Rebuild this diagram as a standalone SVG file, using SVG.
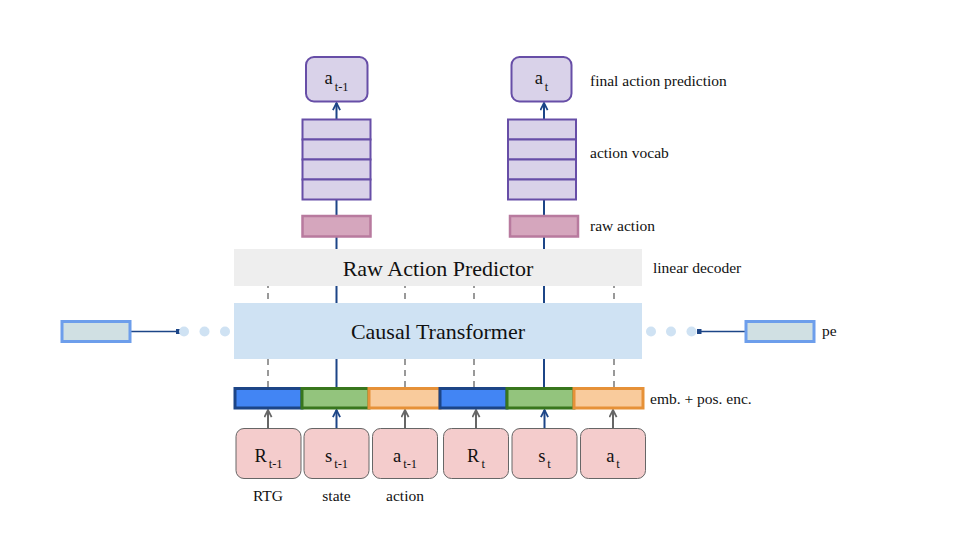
<svg xmlns="http://www.w3.org/2000/svg" width="960" height="540" viewBox="0 0 960 540">
<defs>
<style>
text{font-family:'Liberation Serif','DejaVu Serif',serif}
.lbl{font-size:15.5px;fill:#111}
.big{font-size:22px;fill:#111;text-anchor:middle}
.tok{font-size:18.5px;fill:#111;text-anchor:middle}
.sub{font-size:12.5px}
.tokbox{fill:#f4cccc;stroke:#666;stroke-width:1}
.outbox{fill:#d9d2e9;stroke:#674ea7;stroke-width:2}
.vocab{fill:#d9d2e9;stroke:#674ea7;stroke-width:2}
.raw{fill:#d5a6bd;stroke:#b87a9e;stroke-width:2.5}
.pe{fill:#d0e0e3;stroke:#6d9eeb;stroke-width:3}
.dot{fill:#cfe2f3}
.blue{stroke:#1c4587;stroke-width:2;fill:none}
.gray{stroke:#666;stroke-width:2;fill:none}
.dash{stroke:#999;stroke-width:2;stroke-dasharray:6 5;fill:none}
.peline{stroke:#1c4587;stroke-width:1.3;fill:none}
</style>
<marker id="ahBlue" viewBox="0 0 10 10" refX="9" refY="5" markerWidth="9" markerHeight="9" markerUnits="userSpaceOnUse" orient="auto">
<path d="M1,1 L9,5 L1,9" fill="none" stroke="#1c4587" stroke-width="2"/>
</marker>
<marker id="ahGray" viewBox="0 0 10 10" refX="9" refY="5" markerWidth="9" markerHeight="9" markerUnits="userSpaceOnUse" orient="auto">
<path d="M1,1 L9,5 L1,9" fill="none" stroke="#666" stroke-width="2"/>
</marker>
<marker id="dotEnd" viewBox="0 0 10 10" refX="5" refY="5" markerWidth="5" markerHeight="5" markerUnits="userSpaceOnUse">
<rect x="0" y="0" width="10" height="10" fill="#1c4587"/>
</marker>
</defs>
<rect width="960" height="540" fill="#fff"/>
<g id="connectors">
<line class="dash" x1="268" y1="387" x2="268" y2="250"/>
<line class="dash" x1="405" y1="387" x2="405" y2="250"/>
<line class="dash" x1="474" y1="387" x2="474" y2="250"/>
<line class="dash" x1="614" y1="387" x2="614" y2="250"/>
<line class="blue" x1="336.5" y1="387" x2="336.5" y2="103" marker-end="url(#ahBlue)"/>
<line class="blue" x1="544" y1="387" x2="544" y2="103" marker-end="url(#ahBlue)"/>
<line class="gray" x1="268" y1="428" x2="268" y2="410" marker-end="url(#ahGray)"/>
<line class="blue" x1="336.5" y1="428" x2="336.5" y2="410" marker-end="url(#ahBlue)"/>
<line class="gray" x1="405" y1="428" x2="405" y2="410" marker-end="url(#ahGray)"/>
<line class="gray" x1="476" y1="428" x2="476" y2="410" marker-end="url(#ahGray)"/>
<line class="blue" x1="544.5" y1="428" x2="544.5" y2="410" marker-end="url(#ahBlue)"/>
<line class="gray" x1="613" y1="428" x2="613" y2="410" marker-end="url(#ahGray)"/>
<line class="peline" x1="131" y1="331.5" x2="178" y2="331.5" marker-end="url(#dotEnd)"/>
<line class="peline" x1="745" y1="331.5" x2="699" y2="331.5" marker-end="url(#dotEnd)"/>
</g>

<g id="raw-action-predictor">
<rect x="234" y="249" width="408" height="37" fill="#eeeeee"/>
<text class="big" x="438" y="276">Raw Action Predictor</text>
</g>

<g id="causal-transformer">
<rect x="234" y="303" width="408" height="56" fill="#cfe2f3"/>
<text class="big" x="438" y="339">Causal Transformer</text>
</g>

<g id="pe-left">
<rect class="pe" x="62" y="321.5" width="68" height="20"/>
<circle class="dot" cx="184" cy="331.5" r="5"/>
<circle class="dot" cx="204.5" cy="331.5" r="5"/>
<circle class="dot" cx="225" cy="331.5" r="5"/>
</g>

<g id="pe-right">
<circle class="dot" cx="651" cy="331.5" r="5"/>
<circle class="dot" cx="671" cy="331.5" r="5"/>
<circle class="dot" cx="691.5" cy="331.5" r="5"/>
<rect class="pe" x="746" y="321.5" width="68" height="20"/>
<text class="lbl" x="822" y="336">pe</text>
</g>

<g id="embedding-bar">
<rect x="235" y="388.5" width="67" height="19.5" fill="#4285f4" stroke="#1c4587" stroke-width="3"/>
<rect x="302" y="388.5" width="67" height="19.5" fill="#93c47d" stroke="#38761d" stroke-width="3"/>
<rect x="369" y="388.5" width="71" height="19.5" fill="#f9cb9c" stroke="#e69138" stroke-width="3"/>
<rect x="440" y="388.5" width="67" height="19.5" fill="#4285f4" stroke="#1c4587" stroke-width="3"/>
<rect x="507" y="388.5" width="67" height="19.5" fill="#93c47d" stroke="#38761d" stroke-width="3"/>
<rect x="574" y="388.5" width="69" height="19.5" fill="#f9cb9c" stroke="#e69138" stroke-width="3"/>
<text class="lbl" x="650" y="404">emb. + pos. enc.</text>
</g>

<g id="token-R-t-1">
<rect class="tokbox" x="236" y="428.5" width="65" height="50" rx="8"/>
<text class="tok" x="268.5" y="462">R<tspan class="sub" dx="2" dy="6">t-1</tspan></text>
</g>
<g id="token-s-t-1">
<rect class="tokbox" x="304" y="428.5" width="65" height="50" rx="8"/>
<text class="tok" x="336.5" y="462">s<tspan class="sub" dx="2" dy="6">t-1</tspan></text>
</g>
<g id="token-a-t-1">
<rect class="tokbox" x="372.5" y="428.5" width="65" height="50" rx="8"/>
<text class="tok" x="405" y="462">a<tspan class="sub" dx="2" dy="6">t-1</tspan></text>
</g>
<g id="token-R-t">
<rect class="tokbox" x="443.5" y="428.5" width="65" height="50" rx="8"/>
<text class="tok" x="476" y="462">R<tspan class="sub" dx="2" dy="6">t</tspan></text>
</g>
<g id="token-s-t">
<rect class="tokbox" x="512" y="428.5" width="65" height="50" rx="8"/>
<text class="tok" x="544.5" y="462">s<tspan class="sub" dx="2" dy="6">t</tspan></text>
</g>
<g id="token-a-t">
<rect class="tokbox" x="580.5" y="428.5" width="65" height="50" rx="8"/>
<text class="tok" x="613" y="462">a<tspan class="sub" dx="2" dy="6">t</tspan></text>
</g>

<g id="token-labels">
<text class="lbl" x="268" y="501" text-anchor="middle">RTG</text>
<text class="lbl" x="336.5" y="501" text-anchor="middle">state</text>
<text class="lbl" x="405" y="501" text-anchor="middle">action</text>
</g>

<g id="raw-action-left">
<rect class="raw" x="302.5" y="216" width="68" height="20.5"/>
</g>
<g id="raw-action-right">
<rect class="raw" x="510" y="216" width="68" height="20.5"/>
<text class="lbl" x="590" y="230.5">raw action</text>
</g>

<g id="vocab-left">
<rect class="vocab" x="302.5" y="119.5" width="68" height="20"/>
<rect class="vocab" x="302.5" y="139.5" width="68" height="20"/>
<rect class="vocab" x="302.5" y="159.5" width="68" height="20"/>
<rect class="vocab" x="302.5" y="179.5" width="68" height="20"/>
</g>
<g id="vocab-right">
<rect class="vocab" x="508" y="119.5" width="68" height="20"/>
<rect class="vocab" x="508" y="139.5" width="68" height="20"/>
<rect class="vocab" x="508" y="159.5" width="68" height="20"/>
<rect class="vocab" x="508" y="179.5" width="68" height="20"/>
<text class="lbl" x="590" y="158">action vocab</text>
</g>

<g id="output-a-t-1">
<rect class="outbox" x="306" y="57" width="61.5" height="44.5" rx="8"/>
<text class="tok" x="336.5" y="84">a<tspan class="sub" dx="2" dy="7">t-1</tspan></text>
</g>
<g id="output-a-t">
<rect class="outbox" x="511.5" y="57" width="60" height="44.5" rx="8"/>
<text class="tok" x="541.5" y="84">a<tspan class="sub" dx="2" dy="7">t</tspan></text>
<text class="lbl" x="590" y="86">final action prediction</text>
</g>

<g id="linear-decoder-label">
<text class="lbl" x="653" y="273">linear decoder</text>
</g>
</svg>
